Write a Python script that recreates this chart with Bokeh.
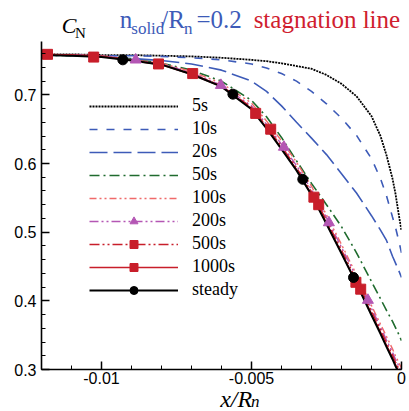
from bokeh.plotting import figure
from bokeh.models import Legend, LegendItem, FixedTicker, Label, Range1d
from bokeh.layouts import column
from bokeh.embed import file_html
from bokeh.resources import INLINE

# ---------------- data ----------------
X_GRID = [-0.012, -0.011, -0.010, -0.009, -0.008, -0.007, -0.006, -0.005, -0.0045,
          -0.004, -0.0035, -0.003, -0.0025, -0.002, -0.0015, -0.001, -0.0007,
          -0.0005, -0.0003, -0.0002, -0.0001, 0.0]

CN_5S = [0.759, 0.759, 0.758, 0.758, 0.757, 0.756, 0.754, 0.751, 0.749, 0.746, 0.742,
         0.738, 0.729, 0.716, 0.698, 0.669, 0.640, 0.612, 0.578, 0.556, 0.528, 0.502]
CN_10S = [0.758, 0.758, 0.757, 0.757, 0.756, 0.754, 0.751, 0.745, 0.739, 0.731, 0.720,
          0.705, 0.687, 0.666, 0.641, 0.607, 0.578, 0.553, 0.522, 0.507, 0.489, 0.470]
CN_20S = [0.758, 0.757, 0.756, 0.753, 0.750, 0.745, 0.736, 0.720, 0.705, 0.684, 0.660,
          0.637, 0.613, 0.585, 0.557, 0.524, 0.503, 0.488, 0.465, 0.455, 0.445, 0.434]
CN_50S = [0.758, 0.757, 0.756, 0.752, 0.746, 0.736, 0.720, 0.692, 0.668, 0.638, 0.604,
          0.571, 0.540, 0.508, 0.470, 0.428, 0.403, 0.386, 0.370, 0.361, 0.352, 0.342]
CN_100S = [0.759, 0.758, 0.757, 0.751, 0.746, 0.734, 0.717, 0.688, 0.662, 0.633, 0.602,
           0.567, 0.525, 0.482, 0.438, 0.393, 0.366, 0.348, 0.330, 0.320, 0.311, 0.302]
CN_200S = [0.759, 0.758, 0.757, 0.751, 0.745, 0.732, 0.714, 0.684, 0.657, 0.628, 0.597,
           0.562, 0.521, 0.478, 0.434, 0.389, 0.362, 0.343, 0.325, 0.315, 0.306, 0.297]
CN_500S = [0.759, 0.758, 0.756, 0.751, 0.744, 0.731, 0.713, 0.682, 0.654, 0.625, 0.594,
           0.559, 0.517, 0.474, 0.430, 0.385, 0.358, 0.339, 0.321, 0.311, 0.302, 0.293]
CN_1000S = [0.759, 0.758, 0.756, 0.750, 0.744, 0.730, 0.712, 0.680, 0.652, 0.622, 0.591,
            0.555, 0.513, 0.470, 0.426, 0.381, 0.354, 0.335, 0.317, 0.307, 0.298, 0.289]
CN_STEADY = [0.758, 0.757, 0.755, 0.750, 0.744, 0.730, 0.712, 0.679, 0.651, 0.621, 0.590,
             0.554, 0.512, 0.469, 0.425, 0.379, 0.352, 0.333, 0.315, 0.305, 0.296, 0.287]

# marker positions
MK_200S_X = [-0.00886, -0.00602, -0.00392, -0.00242, -0.00112]
MK_200S_Y = [0.751, 0.714, 0.624, 0.514, 0.401]
MK_500S_X = [-0.01026, -0.00696, -0.00436, -0.00276, -0.00136]
MK_500S_Y = [0.755, 0.731, 0.650, 0.540, 0.417]
MK_1000S_X = [-0.0118, -0.0081, -0.00486, -0.00292, -0.00152]
MK_1000S_Y = [0.759, 0.745, 0.673, 0.551, 0.427]
MK_STEADY_X = [-0.00929, -0.00562, -0.00329, -0.0016]
MK_STEADY_Y = [0.751, 0.701, 0.577, 0.434]

SERIES_LABELS = ["5s", "10s", "20s", "50s", "100s", "200s", "500s", "1000s", "steady"]

X_TICKS = [-0.01, -0.005, 0.0]
X_TICK_LABELS = ["-0.01", "-0.005", "0"]
X_MINOR = [-0.012, -0.011, -0.010, -0.009, -0.008, -0.007, -0.006, -0.005, -0.004,
           -0.003, -0.002, -0.001, 0.0]
Y_TICKS = [0.3, 0.4, 0.5, 0.6, 0.7]
Y_TICK_LABELS = ["0.3", "0.4", "0.5", "0.6", "0.7"]
Y_MINOR = [0.30, 0.32, 0.34, 0.36, 0.38, 0.40, 0.42, 0.44, 0.46, 0.48, 0.50, 0.52, 0.54,
           0.56, 0.58, 0.60, 0.62, 0.64, 0.66, 0.68, 0.70, 0.72, 0.74, 0.76]

# ---------------- styling ----------------
BLUE = "#3D5BB8"
GREEN = "#1F6B2E"
SALMON = "#F06A6A"
MAGENTA = "#B456B4"
RED = "#C81E2A"
TITLE_RED = "#D0202E"

W = 409
TOP_H = 41      # title strip
MAIN_H = 370    # frame 328 px + 42 px below for tick labels and axis title
BOT_H = 30      # x-axis title strip, overlaid on the bottom of the main plot

# ---------------- main plot ----------------
p = figure(width=W, height=MAIN_H, x_range=(-0.012, 0.0), y_range=(0.3, 0.7777),
           output_backend="svg", toolbar_location=None, title=None,
           min_border_left=41, min_border_right=8, min_border_top=0,
           min_border_bottom=42)
p.outline_line_color = None
p.grid.visible = False

p.xaxis.ticker = FixedTicker(ticks=X_TICKS, minor_ticks=X_MINOR)
p.xaxis.major_label_overrides = dict(zip(X_TICKS, X_TICK_LABELS))
p.yaxis.ticker = FixedTicker(ticks=Y_TICKS, minor_ticks=Y_MINOR)
p.yaxis.major_label_overrides = dict(zip(Y_TICKS, Y_TICK_LABELS))
for ax in (p.xaxis, p.yaxis):
    ax.axis_line_color = "black"
    ax.axis_line_width = 1.6
    ax.major_tick_in = 8
    ax.major_tick_out = 0
    ax.minor_tick_in = 4
    ax.minor_tick_out = 0
    ax.major_tick_line_width = 1.5
    ax.minor_tick_line_width = 1
    ax.major_tick_line_color = "black"
    ax.minor_tick_line_color = "black"
    ax.major_label_text_font = "Liberation Sans"
    ax.major_label_text_font_size = "16px"
    ax.major_label_text_color = "black"
p.xaxis.major_label_standoff = 2
p.yaxis.major_label_standoff = 5

r5 = p.line(X_GRID, CN_5S, line_color="black", line_width=1.8, line_dash="2 1")
r10 = p.line(X_GRID, CN_10S, line_color=BLUE, line_width=1.6, line_dash="8 9")
r20 = p.line(X_GRID, CN_20S, line_color=BLUE, line_width=1.6, line_dash="18 6")
r50 = p.line(X_GRID, CN_50S, line_color=GREEN, line_width=1.6, line_dash="10 4 2 4")
r100 = p.line(X_GRID, CN_100S, line_color=SALMON, line_width=1.4, line_dash="7 3 2 3 2 3")
r200 = p.line(X_GRID, CN_200S, line_color=MAGENTA, line_width=1.4, line_dash="9 3 2 3 2 3")
r500 = p.line(X_GRID, CN_500S, line_color=RED, line_width=1.4, line_dash="10 3 2 3 2 3")
r1000 = p.line(X_GRID, CN_1000S, line_color=RED, line_width=1.6)
rst = p.line(X_GRID, CN_STEADY, line_color="black", line_width=2)

m200 = p.scatter(MK_200S_X, MK_200S_Y, marker="triangle", size=11, fill_color=MAGENTA,
                 line_color=MAGENTA)
m500 = p.scatter(MK_500S_X, MK_500S_Y, marker="square", size=10, fill_color=RED,
                 line_color=RED)
m1000 = p.scatter(MK_1000S_X, MK_1000S_Y, marker="square", size=10, fill_color=RED,
                  line_color=RED)
mst = p.scatter(MK_STEADY_X, MK_STEADY_Y, marker="circle", size=10, fill_color="black",
                line_color="black")

renderer_groups = [[r5], [r10], [r20], [r50], [r100], [r200, m200], [r500, m500],
                   [r1000, m1000], [rst, mst]]
items = [LegendItem(label=lab, renderers=grp) for lab, grp in zip(SERIES_LABELS, renderer_groups)]
legend = Legend(items=items, location=(48, 69), orientation="vertical",
                glyph_width=89, glyph_height=20, label_height=20, label_standoff=14,
                spacing=2, padding=0, margin=0, border_line_color=None,
                background_fill_alpha=0, label_text_font="Liberation Serif",
                label_text_font_size="18px", label_text_color="black")
p.add_layout(legend)


# ---------------- text strips (page-pixel coordinates) ----------------
def strip(y_top, h, **kw):
    s = figure(width=W, height=h, x_range=Range1d(0, W), y_range=Range1d(y_top + h, y_top),
               output_backend="svg", toolbar_location=None, title=None, min_border=0,
               x_axis_type=None, y_axis_type=None, **kw)
    s.outline_line_color = None
    s.background_fill_alpha = 0
    s.border_fill_alpha = 0
    return s


def add_label(fig, px, baseline, text, size, color, style="normal"):
    # anchor the text box bottom just below the baseline (descent of the serif font)
    fig.add_layout(Label(x=px, y=baseline + 0.216 * size, text=text,
                         text_font="Liberation Serif",
                         text_font_size=f"{size}px", text_color=color,
                         text_font_style=style, text_baseline="bottom",
                         text_align="left"))


top = strip(0, TOP_H)
add_label(top, 23, 33, "C", 22, "black", "italic")
add_label(top, 38, 37, "N", 15, "black")
add_label(top, 89, 27, "n", 25, BLUE)
add_label(top, 102, 34, "solid", 17, BLUE)
add_label(top, 136, 27, "/R", 25, BLUE)
add_label(top, 162, 34, "n", 17, BLUE)
add_label(top, 176, 27, "=0.2", 25, BLUE)
add_label(top, 241, 27, "stagnation line", 25, TITLE_RED)

# overlaid on the lower border of the main plot (transparent background)
bottom = strip(TOP_H + MAIN_H - BOT_H, BOT_H, margin=(-BOT_H, 0, 0, 0))
add_label(bottom, 203, 406, "x/R", 24, "black", "italic")
add_label(bottom, 238, 407, "n", 17, "black", "italic")

layout = column(top, p, bottom, spacing=0)
open("out.html", "w").write(file_html(layout, INLINE))
